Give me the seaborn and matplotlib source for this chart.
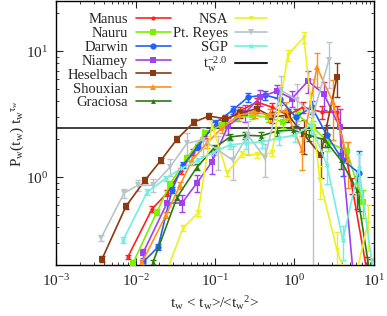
import numpy as np
import pandas as pd
import matplotlib
matplotlib.use("Agg")
import matplotlib.pyplot as plt
import seaborn as sns
from matplotlib.lines import Line2D
from matplotlib.ticker import LogLocator, NullFormatter

sns.set_theme(style="ticks")
plt.rcParams["font.family"] = ["Liberation Serif", "DejaVu Serif"]
plt.rcParams["mathtext.fontset"] = "custom"
plt.rcParams["mathtext.rm"] = "Liberation Serif"
plt.rcParams["mathtext.it"] = "Liberation Serif"

# data (x = t_w <t_w>/<t_w^2>, y = P_w(t_w) t_w^tau)
manus_x = [0.0080, 0.0161, 0.0249, 0.0373, 0.0528, 0.0748, 0.122, 0.206, 0.337, 0.521, 0.828, 1.28, 2.22, 3.43, 5.29, 8.17]
manus_y = [0.232, 0.557, 0.746, 1.12, 1.58, 2.15, 2.68, 3.34, 3.94, 3.59, 3.10, 3.59, 3.28, 3.28, 0.86, 0.18]
manus_e = [0.04, 0.05, 0.05, 0.05, 0.05, 0.05, 0.06, 0.07, 0.08, 0.08, 0.08, 0.1, 0.12, 0.12, 0.15, 0.3]

nauru_x = [0.0093, 0.0186, 0.0272, 0.0445, 0.0748, 0.122, 0.189, 0.292, 0.465, 0.717, 1.11, 1.71, 2.64, 4.57, 7.27]
nauru_y = [0.208, 0.53, 0.88, 1.42, 2.23, 2.59, 2.94, 3.10, 2.99, 2.73, 3.10, 2.49, 1.90, 1.61, 0.63]
nauru_e = [0.05, 0.05, 0.05, 0.05, 0.05, 0.06, 0.06, 0.07, 0.08, 0.1, 0.1, 0.12, 0.15, 0.18, 0.25]

darwin_x = [0.0124, 0.0192, 0.0288, 0.0396, 0.0611, 0.100, 0.168, 0.260, 0.425, 0.657, 1.04, 1.66, 2.56, 4.07, 6.47]
darwin_y = [0.211, 0.278, 0.79, 1.25, 1.73, 2.68, 3.40, 4.31, 4.48, 4.16, 2.99, 3.59, 2.15, 1.36, 1.08]
darwin_e = [0.05, 0.05, 0.05, 0.05, 0.05, 0.06, 0.07, 0.08, 0.08, 0.1, 0.15, 0.12, 0.2, 0.25, 0.5]

niamey_x = [0.0124, 0.0249, 0.0385, 0.0594, 0.0917, 0.146, 0.238, 0.370, 0.603, 0.931, 1.48, 2.35, 3.73, 5.94]
niamey_y = [0.249, 0.622, 0.622, 0.90, 1.32, 2.54, 3.22, 4.3, 4.82, 4.20, 5.78, 4.56, 2.49, 0.1]
niamey_e = [0.08, 0.15, 0.15, 0.15, 0.2, 0.15, 0.15, 0.15, 0.12, 0.15, 0.2, 0.25, 0.4, 0.5]

hesel_x = [0.00379, 0.0076, 0.0132, 0.0209, 0.0333, 0.0544, 0.0841, 0.134, 0.206, 0.337, 0.521, 0.828, 1.31, 2.14, 3.43]
hesel_y = [0.224, 0.589, 0.947, 1.36, 2.0, 2.73, 3.05, 2.90, 3.20, 3.50, 3.00, 3.10, 2.19, 1.50, 6.2]
hesel_e = [0.05, 0.05, 0.05, 0.05, 0.05, 0.05, 0.06, 0.07, 0.08, 0.08, 0.1, 0.12, 0.3, 0.35, 0.3]

shoux_x = [0.0121, 0.0242, 0.0363, 0.0514, 0.0794, 0.122, 0.200, 0.318, 0.492, 0.78, 1.24, 1.92, 3.05, 4.71]
shoux_y = [0.211, 0.50, 0.86, 1.36, 1.86, 2.45, 3.10, 3.28, 3.10, 3.40, 1.64, 7.46, 3.94, 1.36]
shoux_e = [0.05, 0.06, 0.06, 0.08, 0.08, 0.08, 0.1, 0.1, 0.12, 0.15, 0.3, 0.3, 0.5, 0.4]

gracio_x = [0.0166, 0.0333, 0.0594, 0.097, 0.155, 0.238, 0.379, 0.603, 0.957, 1.52, 2.42, 3.85, 6.11, 9.2]
gracio_y = [0.211, 0.69, 1.20, 1.70, 2.08, 2.15, 2.12, 2.32, 2.36, 2.15, 1.97, 1.36, 0.79, 0.15]
gracio_e = [0.05, 0.05, 0.05, 0.05, 0.06, 0.06, 0.07, 0.08, 0.08, 0.1, 0.12, 0.15, 0.3, 0.5]

nsa_x = [0.0256, 0.0396, 0.0611, 0.0917, 0.142, 0.219, 0.337, 0.521, 0.828, 1.31, 2.09, 3.43, 5.3, 8.4]
nsa_y = [0.19, 0.394, 0.52, 2.59, 1.08, 1.52, 1.50, 1.55, 9.30, 12.9, 0.95, 0.264, 0.12, 0.43]
nsa_e = [0.05, 0.05, 0.05, 0.08, 0.06, 0.05, 0.05, 0.05, 0.1, 0.1, 0.3, 0.4, 0.5, 0.4]

reyes_x = [0.00368, 0.00716, 0.0107, 0.0166, 0.0272, 0.0445, 0.0708, 0.109, 0.168, 0.260, 0.425, 0.676, 1.07, 1.71, 2.72]
reyes_y = [0.328, 0.746, 0.86, 0.86, 1.20, 1.86, 1.97, 1.64, 1.36, 2.15, 1.42, 4.9, 4.09, 3.10, 8.5]
reyes_e = [0.06, 0.08, 0.1, 0.12, 0.15, 0.2, 0.25, 0.3, 0.3, 0.3, 0.3, 0.3, 0.35, 0.95, 0.4]

sgp_x = [0.00697, 0.014, 0.0242, 0.0385, 0.0611, 0.097, 0.155, 0.245, 0.390, 0.638, 1.01, 1.61, 2.56, 4.07, 6.47, 10.2]
sgp_y = [0.316, 0.76, 0.98, 1.18, 1.36, 1.58, 1.80, 1.86, 1.90, 2.04, 2.15, 2.59, 1.25, 0.316, 1.18, 0.15]
sgp_e = [0.05, 0.05, 0.05, 0.05, 0.05, 0.06, 0.07, 0.1, 0.1, 0.12, 0.12, 0.15, 0.3, 0.3, 0.3, 0.5]

ref_level = 2.45

sites = ["Manus", "Nauru", "Darwin", "Niamey", "Heselbach", "Shouxian", "Graciosa", "NSA", "Pt. Reyes", "SGP"]
xs = [manus_x, nauru_x, darwin_x, niamey_x, hesel_x, shoux_x, gracio_x, nsa_x, reyes_x, sgp_x]
ys = [manus_y, nauru_y, darwin_y, niamey_y, hesel_y, shoux_y, gracio_y, nsa_y, reyes_y, sgp_y]
es = [manus_e, nauru_e, darwin_e, niamey_e, hesel_e, shoux_e, gracio_e, nsa_e, reyes_e, sgp_e]

colors = {"Manus": "#ff2020", "Nauru": "#7cf000", "Darwin": "#2060ff", "Niamey": "#a040f0",
          "Heselbach": "#8b3a0f", "Shouxian": "#ff9020", "Graciosa": "#2a7a10", "NSA": "#f0f020",
          "Pt. Reyes": "#b8c4c8", "SGP": "#70f0e0"}
markers = {"Manus": "o", "Nauru": "s", "Darwin": "o", "Niamey": "s", "Heselbach": "s",
           "Shouxian": "^", "Graciosa": "^", "NSA": "v", "Pt. Reyes": "v", "SGP": "X"}
msizes = {"Manus": 3, "Nauru": 4.5, "Darwin": 4.5, "Niamey": 4, "Heselbach": 4.5,
          "Shouxian": 4.5, "Graciosa": 3.5, "NSA": 3.5, "Pt. Reyes": 4.5, "SGP": 3.5}

rows = []
for s, x, y in zip(sites, xs, ys):
    for a, b in zip(x, y):
        rows.append({"site": s, "x": a, "y": b})
df = pd.DataFrame(rows)

fig, ax = plt.subplots(figsize=(3.87, 3.16), dpi=100)
fig.subplots_adjust(left=0.145, right=0.966, bottom=0.161, top=0.997)

ax.axhline(ref_level, color="#303030", lw=1.3, zorder=1)

for s, x, y, e in zip(sites, xs, ys, es):
    y = np.array(y)
    e = np.array(e)
    ax.errorbar(x, y, yerr=[y * e, y * e], fmt="none", ecolor=colors[s],
                elinewidth=1.0, capsize=2.5, capthick=1.0, zorder=2)
    sub = df[df.site == s]
    sns.lineplot(data=sub, x="x", y="y", ax=ax, color=colors[s], marker=markers[s],
                 markersize=msizes[s], markeredgewidth=0, lw=1.2, sort=False,
                 estimator=None, zorder=3)

ax.set_xscale("log")
ax.set_yscale("log")
ax.set_xlim(1e-3, 1e1)
ax.set_ylim(0.2, 25)
ax.yaxis.set_minor_formatter(NullFormatter())
ax.xaxis.set_minor_locator(LogLocator(base=10, subs=np.arange(2, 10)))
ax.tick_params(which="both", direction="in", top=True, right=True, labelsize=11, pad=6)
ax.tick_params(which="major", length=5, width=0.8)
ax.tick_params(which="minor", length=2.5, width=0.6)
for sp in ax.spines.values():
    sp.set_color("black")
    sp.set_linewidth(1.0)

ax.set_xlabel(r"t$_{\rm w}$ < t$_{\rm w}$>/<t$_{\rm w}$$^2$>", fontsize=11, labelpad=3)
ax.set_ylabel(r"P$_{\rm w}$(t$_{\rm w}$) t$_{\rm w}$$^{\tau_{\rm w}}$", fontsize=11, labelpad=0)

h1 = [Line2D([], [], color=colors[s], marker=markers[s], markersize=msizes[s],
             markeredgewidth=0, lw=1.2) for s in sites[:7]]
h2 = [Line2D([], [], color=colors[s], marker=markers[s], markersize=msizes[s],
             markeredgewidth=0, lw=1.2) for s in sites[7:]]
h2.append(Line2D([], [], color="#202020", lw=1.5))
leg1 = ax.legend(h1, sites[:7], loc="upper left", bbox_to_anchor=(0.0, 1.0), frameon=False,
                 markerfirst=False, fontsize=10.5, handlelength=2.4, handletextpad=0.5,
                 labelspacing=0.05, borderaxespad=0.4)
ax.add_artist(leg1)
ax.legend(h2, sites[7:] + [r"t$_{\rm w}^{-2.0}$"], loc="upper left",
          bbox_to_anchor=(0.33, 1.0), frameon=False, markerfirst=False, fontsize=10.5,
          handlelength=2.2, handletextpad=0.5, labelspacing=0.05, borderaxespad=0.4)

fig.savefig("out.png", dpi=100)
